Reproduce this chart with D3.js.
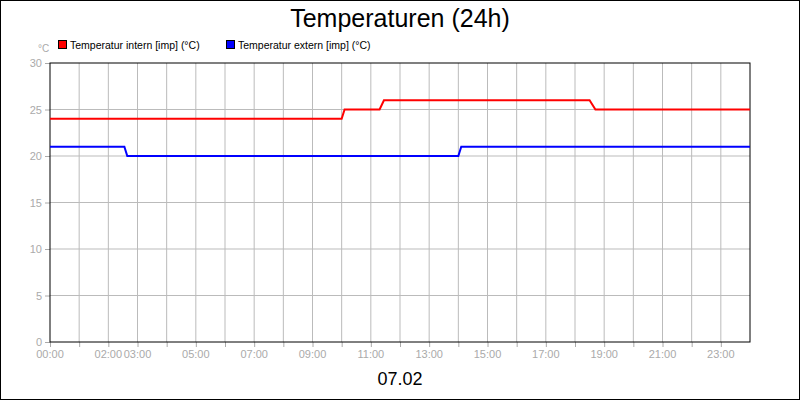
<!DOCTYPE html>
<html><head><meta charset="utf-8">
<script src="https://cdn.jsdelivr.net/npm/d3@7"></script>
<style>body{margin:0;background:#fff}svg{display:block;font-family:"Liberation Sans",Arial,sans-serif}</style>
</head><body><script>
// hours of day, values in °C
const internTime = [0, 10.0, 10.1, 11.3, 11.45, 18.5, 18.7, 24];
const internTemp = [24, 24, 25, 25, 26, 26, 25, 25];
const externTime = [0, 2.55, 2.65, 14.0, 14.1, 24];
const externTemp = [21, 21, 20, 20, 21, 21];
const xLabels = [[0, "00:00"], [2, "02:00"], [3, "03:00"], [5, "05:00"], [7, "07:00"], [9, "09:00"], [11, "11:00"], [13, "13:00"], [15, "15:00"], [17, "17:00"], [19, "19:00"], [21, "21:00"], [23, "23:00"]];
const yTicks = [0, 5, 10, 15, 20, 25, 30];

const width = 800, height = 400;
const margin = { top: 63, right: 50, bottom: 58, left: 50 };

const svg = d3.select('body').append('svg')
    .attr('width', width).attr('height', height);

svg.append('rect').attr('x', 0.5).attr('y', 0.5)
    .attr('width', width - 1).attr('height', height - 1)
    .attr('fill', '#fff').attr('stroke', '#000');

const x = d3.scaleLinear().domain([0, 24]).range([margin.left, width - margin.right]);
const y = d3.scaleLinear().domain([0, 30]).range([height - margin.bottom, margin.top]);

// grid
svg.append('g').selectAll('line').data(d3.range(1, 24)).join('line')
    .attr('x1', d => x(d)).attr('x2', d => x(d))
    .attr('y1', y(0)).attr('y2', y(30))
    .attr('stroke', '#bbb');
svg.append('g').selectAll('line').data(yTicks.slice(1, -1)).join('line')
    .attr('x1', x(0)).attr('x2', x(24))
    .attr('y1', d => y(d)).attr('y2', d => y(d))
    .attr('stroke', '#bbb');

// axes
const xAxis = svg.append('g').attr('transform', `translate(0,${y(0)})`)
    .call(d3.axisBottom(x).tickValues(d3.range(0, 24)).tickSize(5).tickFormat(''));
xAxis.selectAll('line').attr('stroke', '#aaa');
xAxis.select('.domain').remove();
svg.append('g').selectAll('text').data(xLabels).join('text')
    .attr('x', d => x(d[0])).attr('y', y(0) + 16)
    .attr('text-anchor', 'middle').attr('font-size', 11).attr('fill', '#aaa')
    .text(d => d[1]);

const yAxis = svg.append('g').attr('transform', `translate(${x(0)},0)`)
    .call(d3.axisLeft(y).tickValues(yTicks).tickSize(5).tickPadding(3));
yAxis.attr('font-family', null).attr('font-size', 11);
yAxis.selectAll('line').attr('stroke', '#aaa');
yAxis.selectAll('text').attr('fill', '#aaa');
yAxis.select('.domain').remove();

svg.append('rect').attr('x', x(0)).attr('y', y(30))
    .attr('width', x(24) - x(0)).attr('height', y(0) - y(30))
    .attr('fill', 'none').attr('stroke', '#000');

// lines
const line = d3.line().x(d => x(d[0])).y(d => y(d[1]));
svg.append('path').datum(d3.zip(externTime, externTemp))
    .attr('d', line).attr('fill', 'none').attr('stroke', '#0000ff').attr('stroke-width', 2);
svg.append('path').datum(d3.zip(internTime, internTemp))
    .attr('d', line).attr('fill', 'none').attr('stroke', '#ff0000').attr('stroke-width', 2);

// title and date
svg.append('text').attr('x', width / 2).attr('y', 27).attr('text-anchor', 'middle')
    .attr('font-size', 25).text('Temperaturen (24h)');
svg.append('text').attr('x', width / 2).attr('y', 385).attr('text-anchor', 'middle')
    .attr('font-size', 18).text('07.02');
svg.append('text').attr('x', 38).attr('y', 52).attr('font-size', 10).attr('fill', '#aaa').text('°C');

// legend
const legend = [["Temperatur intern [imp] (°C)", "#ff0000", 58], ["Temperatur extern [imp] (°C)", "#0000ff", 226]];
legend.forEach(([label, color, lx]) => {
    svg.append('rect').attr('x', lx + 0.5).attr('y', 40.5).attr('width', 8).attr('height', 8)
        .attr('fill', color).attr('stroke', '#000');
    svg.append('text').attr('x', lx + 12).attr('y', 48.5).attr('font-size', 10.5).text(label);
});
</script></body></html>
